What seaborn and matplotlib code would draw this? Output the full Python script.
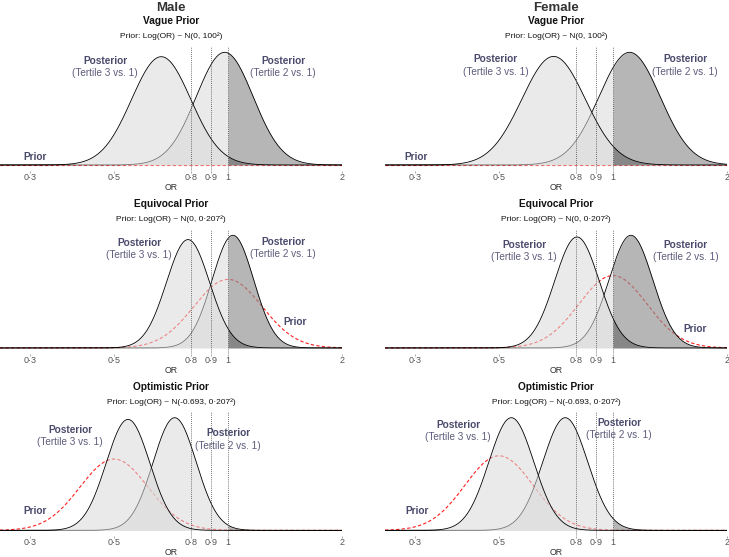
import numpy as np
import matplotlib.pyplot as plt
import seaborn as sns

sexes = ["Male", "Female"]
prior_titles = ["Vague Prior", "Equivocal Prior", "Optimistic Prior"]
prior_subtitles = [
    "Prior: Log(OR) ~ N(0, 100²)",
    "Prior: Log(OR) ~ N(0, 0·207²)",
    "Prior: Log(OR) ~ N(-0.693, 0·207²)",
]
prior_mean = [0.0, 0.0, -0.693]
prior_sd = [100.0, 0.207, 0.207]

# posterior log(OR) mean / sd (vague, equivocal, optimistic)
male_t3_mean = [-0.406, -0.243, -0.608]
male_t3_sd = [0.180, 0.131, 0.133]
male_t2_mean = [-0.020, 0.030, -0.324]
male_t2_sd = [0.173, 0.126, 0.131]
female_t3_mean = [-0.361, -0.219, -0.618]
female_t3_sd = [0.193, 0.135, 0.137]
female_t2_mean = [0.101, 0.109, -0.290]
female_t2_sd = [0.186, 0.133, 0.137]

tick_values = [0.3, 0.5, 0.8, 0.9, 1, 2]
tick_labels = ["0·3", "0·5", "0·8", "0·9", "1", "2"]
ref_lines = [0.8, 0.9, 1]
x_range = (0.25, 2)

post = {
    "Male": (male_t3_mean, male_t3_sd, male_t2_mean, male_t2_sd),
    "Female": (female_t3_mean, female_t3_sd, female_t2_mean, female_t2_sd),
}

# label placement: (x in OR, y of "Posterior", y of "(Tertile ..)") in axes fraction
label_pos = {
    (0, 0): dict(t3=(0.474, 0.882, 0.785), t2=(1.397, 0.882, 0.785), prior=(0.309, 0.112)),
    (0, 1): dict(t3=(0.49, 0.898, 0.798), t2=(1.55, 0.898, 0.798), prior=(0.302, 0.112)),
    (1, 0): dict(t3=(0.582, 0.895, 0.796), t2=(1.397, 0.903, 0.806), prior=(1.504, 0.257)),
    (1, 1): dict(t3=(0.583, 0.879, 0.777), t2=(1.557, 0.879, 0.777), prior=(1.646, 0.201)),
    (2, 0): dict(t3=(0.383, 0.856, 0.757), t2=(1.0, 0.830, 0.727), prior=(0.31, 0.204)),
    (2, 1): dict(t3=(0.39, 0.898, 0.798), t2=(1.037, 0.911, 0.812), prior=(0.303, 0.204)),
}

sns.set_theme(style="white")
plt.rcParams["font.family"] = ["Liberation Sans", "DejaVu Sans"]

W, H = 729, 557
fig = plt.figure(figsize=(W / 100, H / 100), dpi=100)

row_bottom = [0.6937, 0.3652, 0.0377]
row_h = 0.2225
col_left = [0.0, 0.5281]
col_w = 0.4691
row_title_y = [(21, 36), (204.3, 219.3), (387.3, 402.3)]

lab_col = "#4a4a6c"
grid = np.exp(np.linspace(np.log(x_range[0]), np.log(x_range[1]), 800))
lg = np.log(grid)


def npdf(x, m, s):
    return np.exp(-0.5 * ((x - m) / s) ** 2) / (s * np.sqrt(2 * np.pi))


for c, sex in enumerate(sexes):
    t3m, t3s, t2m, t2s = post[sex]
    cx = col_left[c] + col_w / 2
    fig.text(cx, 1 - 10.8 / H, sex, ha="center", va="baseline", fontsize=9.5,
             fontweight="bold", color="#333333")
    for r in range(3):
        ax = fig.add_axes([col_left[c], row_bottom[r], col_w, row_h])
        d_prior = npdf(lg, prior_mean[r], prior_sd[r])
        d3 = npdf(lg, t3m[r], t3s[r])
        d2 = npdf(lg, t2m[r], t2s[r])
        top = max(d_prior.max(), d3.max(), d2.max())

        sns.lineplot(x=grid, y=d_prior, ax=ax, color="#ff2020", lw=0.8,
                     linestyle=(0, (3, 2)), estimator=None, zorder=1)
        ax.fill_between(grid, 0, d2, color="#d9d9d9", alpha=0.55, lw=0, zorder=2)
        sns.lineplot(x=grid, y=d2, ax=ax, color="black", lw=0.6, estimator=None, zorder=3)
        ax.fill_between(grid, 0, d3, color="#d9d9d9", alpha=0.55, lw=0, zorder=4)
        sns.lineplot(x=grid, y=d3, ax=ax, color="black", lw=0.6, estimator=None, zorder=5)
        above = grid >= 1
        ax.fill_between(grid[above], 0, d2[above], color="black", alpha=0.22, lw=0, zorder=6)
        ax.fill_between(grid[above], 0, d3[above], color="black", alpha=0.22, lw=0, zorder=6)
        for v in ref_lines:
            ax.axvline(v, color="#444444", lw=0.6, linestyle=(0, (1, 1.5)), zorder=7)

        ax.set_xscale("log")
        ax.set_xlim(*x_range)
        ax.set_ylim(-0.05 * top, 1.05 * top)
        ax.set_xticks(tick_values)
        ax.set_xticklabels(tick_labels)
        ax.xaxis.set_minor_locator(plt.NullLocator())
        ax.set_yticks([])
        ax.set_ylabel("")
        ax.tick_params(axis="x", length=1.3, width=0.5, color="#888888", pad=0.2,
                       labelsize=6.5, labelcolor="#555555", bottom=True)
        ax.set_xlabel("OR", fontsize=6.3, color="#333333", labelpad=0.6)
        for sp in ax.spines.values():
            sp.set_visible(False)
        ax.set_facecolor("none")

        ty1, ty2 = row_title_y[r]
        fig.text(cx, 1 - ty1 / H, prior_titles[r], ha="center", va="center",
                 fontsize=7.3, fontweight="bold", color="#111111")
        fig.text(cx, 1 - ty2 / H, prior_subtitles[r], ha="center", va="center",
                 fontsize=6, color="#111111")

        pos = label_pos[(r, c)]
        tr = ax.get_xaxis_transform()
        for key, name in (("t3", "(Tertile 3 vs. 1)"), ("t2", "(Tertile 2 vs. 1)")):
            x, y1, y2 = pos[key]
            ax.text(x, y1, "Posterior", transform=tr, ha="center", va="center",
                    fontsize=7.3, fontweight="bold", color=lab_col, zorder=8)
            ax.text(x, y2, name, transform=tr, ha="center", va="center",
                    fontsize=7.2, color="#5c5c7c", zorder=8)
        px, py = pos["prior"]
        ax.text(px, py, "Prior", transform=tr, ha="center", va="center",
                fontsize=7.3, fontweight="bold", color=lab_col, zorder=8)

fig.savefig("out.png", dpi=100)
